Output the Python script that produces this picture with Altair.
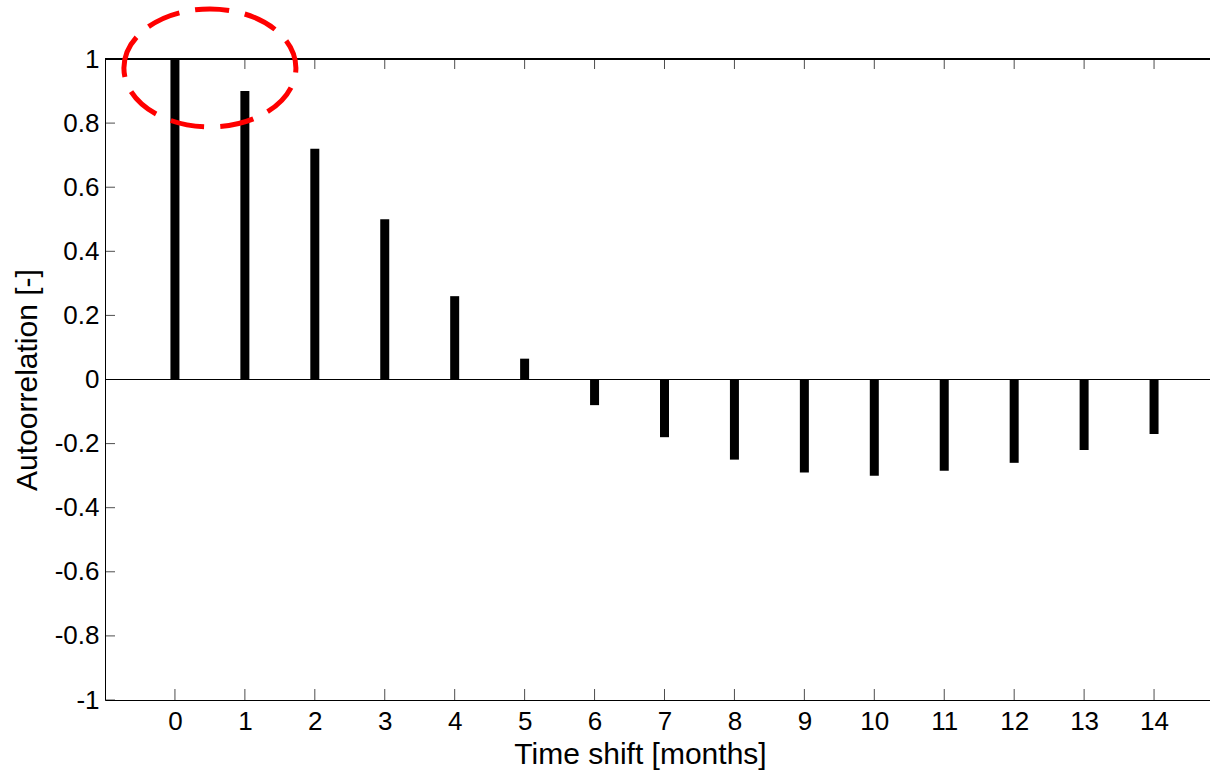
import altair as alt
import pandas as pd

# Autocorrelation by monthly lag
lags = list(range(15))
acf = [1.0, 0.90, 0.72, 0.50, 0.26, 0.065, -0.08, -0.18, -0.25, -0.29,
       -0.30, -0.285, -0.26, -0.22, -0.17]

x_ticks = list(range(15))
y_ticks = [-1, -0.8, -0.6, -0.4, -0.2, 0, 0.2, 0.4, 0.6, 0.8, 1]

# highlighted region around the first lags
mark_x = [0.5]
mark_y = [0.972]

FONT = "Liberation Sans"
W, H = 1105, 641

df = pd.DataFrame({"lag": lags, "acf": acf})
xt = pd.DataFrame({"v": x_ticks})
yt = pd.DataFrame({"v": y_ticks})
hl = pd.DataFrame({"cx": mark_x, "cy": mark_y})

xscale = alt.Scale(domain=[-1, 14.8], nice=False, zero=False)
yscale = alt.Scale(domain=[-1, 1], nice=False, zero=False)

x_axis = alt.Axis(
    values=x_ticks, title="Time shift [months]", ticks=False, tickSize=0,
    labelPadding=8, labelFontSize=26, titleFontSize=30, titlePadding=5,
    titleX=535, titleAnchor="middle",
    grid=False, domainColor="black", labelColor="black", titleColor="black",
    titleFontWeight="normal",
)
y_axis = alt.Axis(
    values=y_ticks, title="Autoorrelation [-]", ticks=False, tickSize=0,
    labelPadding=6, labelFontSize=26, titleFontSize=30, titlePadding=12,
    grid=False, domainColor="black", labelColor="black", titleColor="black",
    titleFontWeight="normal", labelExpr="'' + datum.value",
)


def xf(field):
    return alt.X(field, scale=xscale, axis=x_axis)


def yf(field):
    return alt.Y(field, scale=yscale, axis=y_axis)


def xd(val):
    return alt.XDatum(val, scale=xscale, axis=x_axis)


def yd(val):
    return alt.YDatum(val, scale=yscale, axis=y_axis)


bars = alt.Chart(df).mark_rule(strokeWidth=9, color="black", strokeCap="butt").encode(
    x=xf("lag:Q"), y=yf("acf:Q"), y2=alt.datum(0),
)

zero_line = alt.Chart(df).mark_rule(color="black", strokeWidth=1).encode(y=yd(0))
top_line = alt.Chart(df).mark_rule(color="black", strokeWidth=1).encode(y=yd(1))

ticks_bottom = alt.Chart(xt).mark_tick(
    orient="vertical", size=11, thickness=1, color="black", yOffset=-5.5
).encode(x=xf("v:Q"), y=yd(-1))

ticks_top = alt.Chart(xt).mark_tick(
    orient="vertical", size=10, thickness=1, color="black", yOffset=5
).encode(x=xf("v:Q"), y=yd(1))

ticks_left = alt.Chart(yt).mark_tick(
    orient="horizontal", size=10, thickness=1, color="black", xOffset=5
).encode(y=yf("v:Q"), x=xd(-1))

ellipse_path = "M-1,0A1,0.686,0,1,1,1,0A1,0.686,0,1,1,-1,0Z"
highlight = alt.Chart(hl).mark_point(
    shape=ellipse_path, size=29584, filled=False, color="#ff0000",
    strokeWidth=5, strokeDash=[34, 16], opacity=1,
).encode(x=xf("cx:Q"), y=yf("cy:Q"))

chart = alt.layer(
    zero_line, top_line, bars, ticks_bottom, ticks_top, ticks_left, highlight
).properties(
    width=W, height=H,
    padding={"left": 105, "top": 59, "right": 0, "bottom": 74},
    autosize=alt.AutoSizeParams(type="none"),
).configure_view(stroke=None).configure_axis(
    labelFont=FONT, titleFont=FONT,
)

chart.save("out.html", embed_options={"renderer": "svg", "actions": False})
